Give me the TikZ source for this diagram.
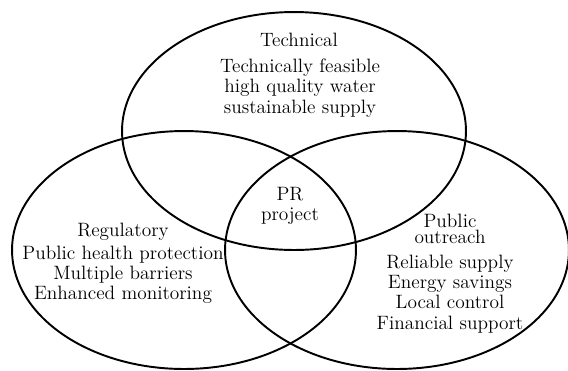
\documentclass[tikz,border=0pt]{standalone}
\usepackage{tikz}
\usetikzlibrary{shapes.geometric}

\begin{document}
\begin{tikzpicture}
[x=0.02cm, y=-0.02cm,
field/.style ={draw=black, line width=1.1pt, ellipse,
minimum width=6.88cm, minimum height=4.76cm, inner sep=0pt},
words/.style ={align=center, inner sep=0pt,
font=\fontsize{11}{11.5}\selectfont}]
\useasboundingbox (0,0) rectangle (568,370);
% the three sets
\node [field] (tech) at (294,131) {};
\node [field] (reg) at (184,250) {};
\node [field] (pub) at (397,250) {};
% top set
\node [words] (techhead) at (299,40) {Technical};
\node [words] (techbody) at (300,88) {Technically feasible\\ high quality water\\ sustainable supply};
% left set
\node [words] (reghead) at (123,232) {Regulatory};
\node [words] (regbody) at (123,275) {Public health protection\\ Multiple barriers\\ Enhanced monitoring};
% right set
\node [words] (pubhead) at (450,229) {Public\\[-2pt] outreach};
\node [words] (pubbody) at (450,294) {Reliable supply\\ Energy savings\\ Local control\\ Financial support};
% middle
\node [words] (core) at (290,206) {PR\\ project};
\end{tikzpicture}
\end{document}
